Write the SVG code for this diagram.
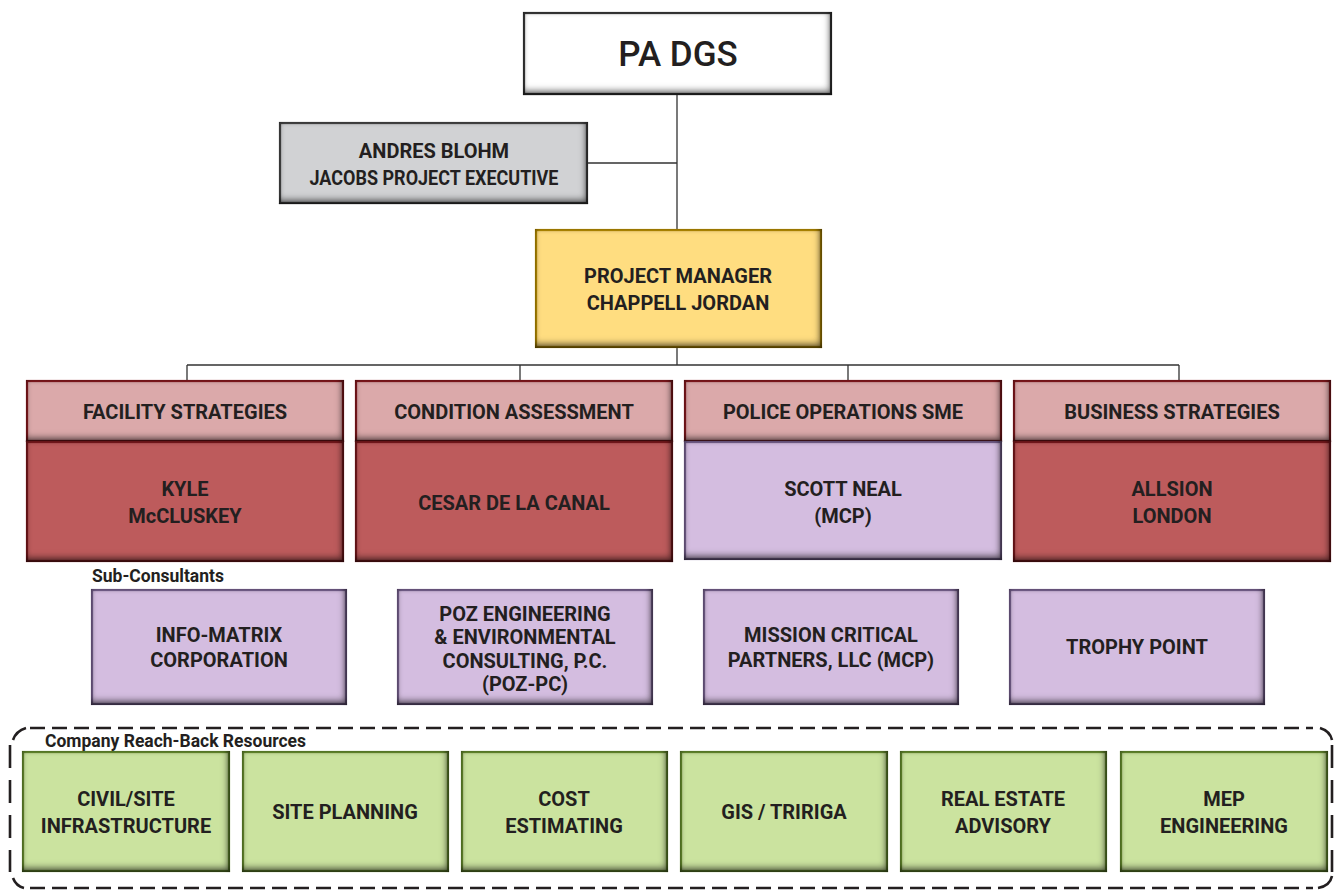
<svg xmlns="http://www.w3.org/2000/svg" width="1338" height="890" viewBox="0 0 1338 890">
<defs>
<filter id="bev" x="-3%" y="-5%" width="106%" height="110%" color-interpolation-filters="sRGB">
  <feGaussianBlur in="SourceAlpha" stdDeviation="3.5" result="b"/>
  <feOffset in="b" dx="-2" dy="-4" result="o"/>
  <feComposite in="SourceAlpha" in2="o" operator="arithmetic" k2="1" k3="-1" result="inner"/>
  <feFlood flood-color="#000" flood-opacity="0.6"/>
  <feComposite in2="inner" operator="in" result="shadow"/>
  <feGaussianBlur in="SourceAlpha" stdDeviation="2.5" result="b2"/>
  <feComposite in="SourceAlpha" in2="b2" operator="arithmetic" k2="1" k3="-1" result="rim"/>
  <feFlood flood-color="#000" flood-opacity="0.35"/>
  <feComposite in2="rim" operator="in" result="rimshadow"/>
  <feMerge><feMergeNode in="SourceGraphic"/><feMergeNode in="rimshadow"/><feMergeNode in="shadow"/></feMerge>
</filter>
<style>
  .box { stroke-width: 2.2; filter: url(#bev); }
  .white { fill: #ffffff; stroke: #3c3c3c; }
  .grey { fill: #d1d2d4; stroke: #4a4a4a; }
  .yellow { fill: #ffdd80; stroke: #bf9300; }
  .head { fill: #dba9aa; stroke: #8b1a1f; }
  .red { fill: #bd5b5c; stroke: #7f1a1e; }
  .purple { fill: #d4bde0; stroke: #7d6696; }
  .green { fill: #cbe39f; stroke: #6b9230; }
  text { font-family: Roboto, "Liberation Sans", sans-serif; font-weight: 700; fill: #231f20; text-anchor: middle; font-size: 20px; }
  .big { font-size: 35px; font-weight: 500; }
  .lbl { text-anchor: start; font-size: 17.5px; }
  .sm { font-size: 20px; }
  .conn { stroke: #333; stroke-width: 1.3; fill: none; }
  .dash { stroke: #231f20; stroke-width: 2.6; fill: none; }
</style>
</defs>

<g id="connectors">
  <path class="conn" d="M677,94 V230 M587,163 H677 M677,347 V365 M187,365 H1179 M187,365 V381 M520,365 V381 M848,365 V381 M1179,365 V381"/>
</g>

<g id="pa-dgs">
  <rect class="box white" x="524" y="13" width="307" height="81"/>
  <text class="big" x="678" y="66">PA DGS</text>
</g>

<g id="andres-blohm">
  <rect class="box grey" x="280" y="123" width="307" height="80"/>
  <text class="sm" x="434" y="158">ANDRES BLOHM</text>
  <text class="sm" x="434" y="185" textLength="249" lengthAdjust="spacingAndGlyphs">JACOBS PROJECT EXECUTIVE</text>
</g>

<g id="project-manager">
  <rect class="box yellow" x="536" y="230" width="285" height="117"/>
  <text x="678" y="283">PROJECT MANAGER</text>
  <text x="678" y="310">CHAPPELL JORDAN</text>
</g>

<g id="facility-strategies">
  <rect class="box head" x="27" y="381" width="316" height="60"/>
  <text x="185" y="419">FACILITY STRATEGIES</text>
</g>
<g id="kyle-mccluskey">
  <rect class="box red" x="27" y="442" width="316" height="119"/>
  <text x="185" y="496">KYLE</text>
  <text x="185" y="523">McCLUSKEY</text>
</g>

<g id="condition-assessment">
  <rect class="box head" x="356" y="381" width="316" height="60"/>
  <text x="514" y="419">CONDITION ASSESSMENT</text>
</g>
<g id="cesar-de-la-canal">
  <rect class="box red" x="356" y="442" width="316" height="119"/>
  <text x="514" y="510">CESAR DE LA CANAL</text>
</g>

<g id="police-operations">
  <rect class="box head" x="685" y="381" width="316" height="60"/>
  <text x="843" y="419">POLICE OPERATIONS SME</text>
</g>
<g id="scott-neal">
  <rect class="box purple" x="685" y="442" width="316" height="117"/>
  <text x="843" y="496">SCOTT NEAL</text>
  <text x="843" y="523">(MCP)</text>
</g>

<g id="business-strategies">
  <rect class="box head" x="1014" y="381" width="316" height="60"/>
  <text x="1172" y="419">BUSINESS STRATEGIES</text>
</g>
<g id="allsion-london">
  <rect class="box red" x="1014" y="442" width="316" height="119"/>
  <text x="1172" y="496">ALLSION</text>
  <text x="1172" y="523">LONDON</text>
</g>

<text class="lbl" x="92" y="582">Sub-Consultants</text>

<g id="info-matrix">
  <rect class="box purple" x="92" y="590" width="254" height="114"/>
  <text x="219" y="642">INFO-MATRIX</text>
  <text x="219" y="667">CORPORATION</text>
</g>
<g id="poz-engineering">
  <rect class="box purple" x="398" y="590" width="254" height="114"/>
  <text x="525" y="621">POZ ENGINEERING</text>
  <text x="525" y="644">&amp; ENVIRONMENTAL</text>
  <text x="525" y="668">CONSULTING, P.C.</text>
  <text x="525" y="691">(POZ-PC)</text>
</g>
<g id="mission-critical">
  <rect class="box purple" x="704" y="590" width="254" height="114"/>
  <text x="831" y="642">MISSION CRITICAL</text>
  <text x="831" y="667">PARTNERS, LLC (MCP)</text>
</g>
<g id="trophy-point">
  <rect class="box purple" x="1010" y="590" width="254" height="114"/>
  <text x="1137" y="654">TROPHY POINT</text>
</g>

<g id="reach-back-frame">
  <path class="dash" d="M30,728 H1313" stroke-dasharray="15 7"/>
  <path class="dash" d="M30,888 H1313" stroke-dasharray="15 7"/>
  <path class="dash" d="M10,745 V872" stroke-dasharray="23 12"/>
  <path class="dash" d="M1332,745 V872" stroke-dasharray="23 12"/>
  <path class="dash" d="M13,740 Q16,731 26,728 M13,878 Q16,886 24,888 M1320,728 Q1330,731 1332,740 M1332,876 Q1330,886 1318,888"/>
  <text class="lbl" x="45" y="747">Company Reach-Back Resources</text>
</g>

<g id="civil-site">
  <rect class="box green" x="23" y="752" width="206" height="119"/>
  <text x="126" y="806">CIVIL/SITE</text>
  <text x="126" y="833">INFRASTRUCTURE</text>
</g>
<g id="site-planning">
  <rect class="box green" x="243" y="752" width="205" height="119"/>
  <text x="345" y="819">SITE PLANNING</text>
</g>
<g id="cost-estimating">
  <rect class="box green" x="462" y="752" width="205" height="119"/>
  <text x="564" y="806">COST</text>
  <text x="564" y="833">ESTIMATING</text>
</g>
<g id="gis-tririga">
  <rect class="box green" x="681" y="752" width="206" height="119"/>
  <text x="784" y="819">GIS / TRIRIGA</text>
</g>
<g id="real-estate">
  <rect class="box green" x="901" y="752" width="205" height="119"/>
  <text x="1003" y="806">REAL ESTATE</text>
  <text x="1003" y="833">ADVISORY</text>
</g>
<g id="mep-engineering">
  <rect class="box green" x="1121" y="752" width="206" height="119"/>
  <text x="1224" y="806">MEP</text>
  <text x="1224" y="833">ENGINEERING</text>
</g>
</svg>
